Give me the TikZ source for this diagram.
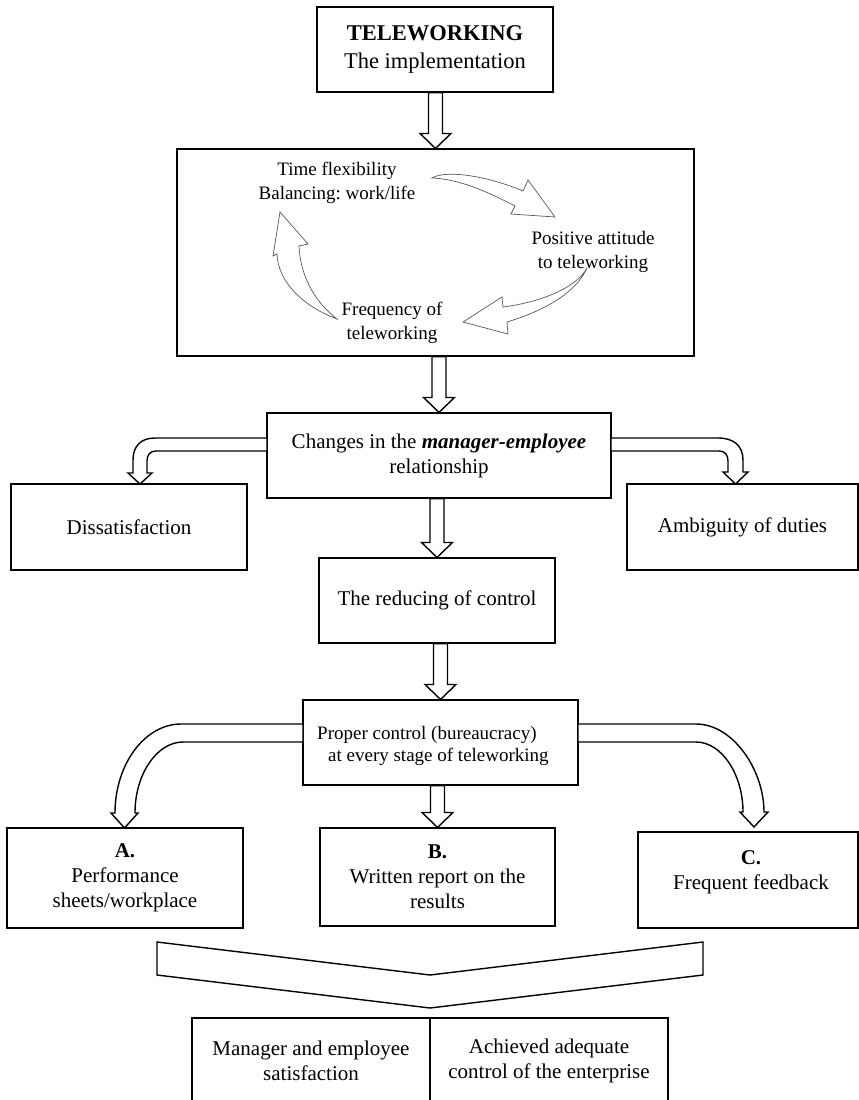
\documentclass[tikz,border=0pt]{standalone}
\usepackage{fontspec}
\setmainfont{Liberation Serif}
\usetikzlibrary{calc}
\frenchspacing
\newcommand\fsz[2]{\fontsize{#1}{#2}\selectfont}
\tikzset{
  box/.style={draw=black, line width=1.1pt, fill=white, inner sep=0pt, align=center, font={\fsz{21}{25}}},
  txt/.style={inner sep=0pt, align=center, font={\fsz{21}{25}}},
  ctxt/.style={inner sep=0pt, align=center, font={\fsz{19}{24}}},
  barrow/.style={draw=black, line width=1.4pt, fill=white, line join=miter},
  carrow/.style={draw=black!65, line width=0.7pt, fill=white, line join=miter},
}
\newcommand\vblock[2]{%
  \draw[barrow] let \p1=(#1.south), \p2=(#2.north) in
    (\x2-7pt,\y1) -- (\x2-7pt,\y2+15pt) -- (\x2-15.5pt,\y2+15pt) -- (\x2,\y2)
    -- (\x2+15.5pt,\y2+15pt) -- (\x2+7pt,\y2+15pt) -- (\x2+7pt,\y1) -- cycle;}
\begin{document}
\begin{tikzpicture}[x=1pt,y=-1pt]
\useasboundingbox (0,0) rectangle (859,1100);

% boxes
\node[box, minimum width=236pt, minimum height=85pt, font={\fsz{22.5}{28}}] (top) at (435,49.5) {\textbf{TELEWORKING}\\The implementation};
\node[box, minimum width=517pt, minimum height=207pt] (big) at (435.5,252.5) {};
\node[ctxt] (t1) at (337,183) {Time flexibility\\Balancing: work/life};
\node[ctxt] (t2) at (593,252) {Positive attitude\\to teleworking};
\node[ctxt] (t3) at (392,323) {Frequency of\\teleworking};
\node[box, minimum width=344pt, minimum height=85pt] (ch) at (439,455.5) {Changes in the \textbf{\textit{manager-employee}}\\relationship};
\node[box, minimum width=236pt, minimum height=86pt] (dis) at (129,527) {Dissatisfaction};
\node[box, minimum width=231pt, minimum height=86pt] (amb) at (742.5,527) {Ambiguity of duties};
\node[box, minimum width=236pt, minimum height=85pt] (red) at (437,600.5) {The reducing of control};
\node[box, minimum width=275pt, minimum height=85pt] (pro) at (440.5,742.5) {};
\node[txt, anchor=west, align=left, font={\fsz{19}{22}}] (prot) at (317,746) {Proper control (bureaucracy)\\\hspace*{11pt}at every stage of teleworking};
\node[box, minimum width=236pt, minimum height=100pt] (A) at (125,878) {\textbf{A.}\\Performance\\sheets/workplace};
\node[box, minimum width=235pt, minimum height=98pt] (B) at (437.5,877) {\textbf{B.}\\Written report on the\\results};
\node[box, minimum width=220pt, minimum height=96pt] (C) at (748,880) {};
\node[txt] (Ct) at (751,872.5) {\textbf{C.}\\Frequent feedback};
\node[box, minimum width=238pt, minimum height=85pt] (botL) at (311,1060.5) {Manager and employee\\satisfaction};
\node[box, minimum width=238pt, minimum height=85pt] (botR) at (549,1060.5) {Achieved adequate\\control of the enterprise};

% straight block arrows
\vblock{top}{big}
\vblock{big}{ch}
\vblock{ch}{red}
\vblock{red}{pro}
\vblock{pro}{B}

% bent arrows from ch
\draw[barrow] (267,438) -- (155,438) .. controls (141,438) and (133,446) .. (133,460)
  -- (133,473) -- (128,473) -- (140,484) -- (152,473) -- (147,473) -- (147,461)
  .. controls (147,455) and (150,451) .. (156,451) -- (267,451) -- cycle;
\draw[barrow] (611,438) -- (718,438) .. controls (734,438) and (743,446) .. (743,460)
  -- (743,472) -- (748,472) -- (735.5,484) -- (723,472) -- (728,472) -- (728,461)
  .. controls (728,455) and (725,451) .. (719,451) -- (611,451) -- cycle;

% curved arrows from pro
\draw[barrow] (303,724) -- (181,724) .. controls (145,724) and (115,764) .. (115,813)
  -- (111,813) -- (124.5,828) -- (138,813) -- (135,813)
  .. controls (135,774) and (157,742) .. (183,742) -- (303,742) -- cycle;
\draw[barrow] (578,724) -- (696,724) .. controls (733,724) and (764,770) .. (764,812)
  -- (768,812) -- (754,827) -- (740,812) -- (743,812)
  .. controls (743,775) and (722,742) .. (696,742) -- (578,742) -- cycle;

% cycle arrows
\draw[carrow] (432,178) .. controls (445,170) and (485,175) .. (523,191)
  -- (528,180) -- (555,217) -- (511,214) -- (515,206)
  .. controls (490,193) and (460,179) .. (432,178) -- cycle;
\draw[carrow] (587,268) .. controls (575,295) and (540,312) .. (507,322)
  -- (508,334) -- (463,322) -- (502,297) -- (503,307)
  .. controls (535,303) and (575,290) .. (587,268) -- cycle;
\draw[carrow] (337,319) .. controls (300,305) and (278,280) .. (277,254)
  -- (273,256) -- (280,212) -- (308,244) -- (299,246)
  .. controls (300,272) and (312,300) .. (337,319) -- cycle;

% merging chevron
\draw[barrow] (157,942) -- (430,975) -- (703,942) -- (703,975) -- (430,1008) -- (157,975) -- cycle;
\end{tikzpicture}
\end{document}
